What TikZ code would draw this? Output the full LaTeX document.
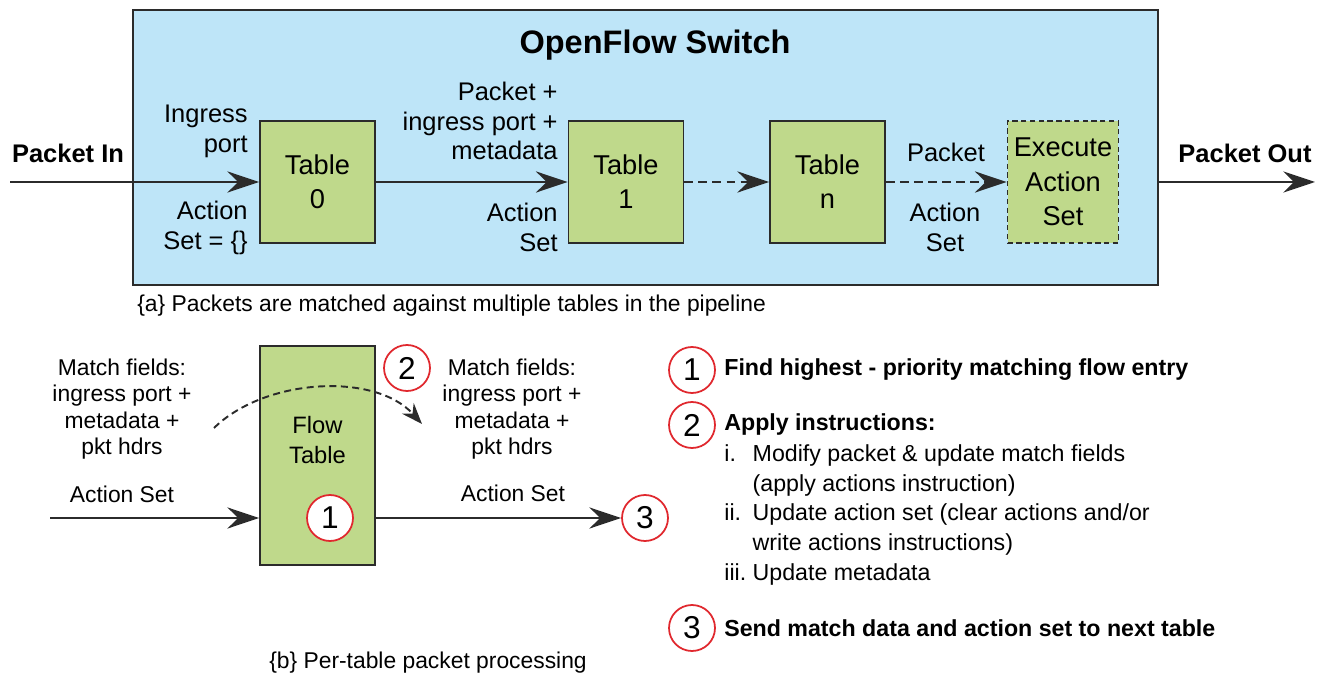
\documentclass[tikz,border=0pt]{standalone}
\usepackage{fontspec}
\setmainfont{Liberation Sans}
\usetikzlibrary{arrows.meta}
\definecolor{swblue}{HTML}{BEE5F8}
\definecolor{tblgreen}{HTML}{BFD98B}
\definecolor{numred}{HTML}{E0282E}
\definecolor{linegray}{HTML}{2B2B2B}

\begin{document}
\begin{tikzpicture}[x=0.02cm,y=-0.02cm,
    tbl/.style={draw=linegray,line width=1pt,fill=tblgreen,minimum width=2.3cm,minimum height=2.44cm,
        align=center,inner sep=0pt,font=\fontsize{15.5}{19.5}\selectfont},
    lbl/.style={inner sep=0pt,font=\fontsize{14.5}{17}\selectfont},
    small/.style={inner sep=0pt,font=\fontsize{13}{15}\selectfont},
    legend/.style={inner sep=0pt,anchor=west,font=\bfseries\fontsize{13.2}{17}\selectfont},
    num/.style={circle,draw=numred,line width=1pt,fill=white,minimum size=0.92cm,inner sep=0pt,
        font=\fontsize{18}{18}\selectfont},
    flow/.style={line width=1.5pt,draw=linegray,-{Stealth[length=18pt,width=12pt,inset=6pt]}}]
    \useasboundingbox (0,0) rectangle (1323,682);

    % (a) the switch
    \node[draw=linegray,line width=1.2pt,fill=swblue,minimum width=20.5cm,minimum height=5.5cm] (switch) at (645.5,147.5) {};
    \node[font=\bfseries\fontsize{18.5}{20}\selectfont] (title) at (655,45) {OpenFlow Switch};

    \node[tbl] (t0) at (317.5,182) {Table\\0};
    \node[tbl] (t1) at (626,182) {Table\\1};
    \node[tbl] (tn) at (827.5,182) {Table\\n};
    \node[tbl,minimum width=2.22cm,dash pattern=on 3pt off 2pt] (exec) at (1063,182) {Execute\\Action\\Set};

    \coordinate (in) at (10,182);
    \coordinate (out) at (1315,182);
    \draw[flow] (in) -- (t0);
    \draw[flow] (t0) -- (t1);
    \draw[flow,dash pattern=on 5pt off 3pt] (t1) -- (tn);
    \draw[flow,dash pattern=on 5pt off 3pt] (tn) -- (exec);
    \draw[flow] (switch.east |- exec.west) -- (out);

    \node[lbl,font=\bfseries\fontsize{14.5}{17}\selectfont] (pin) at (68,153) {Packet In};
    \node[lbl,align=right,anchor=east] (ingress) at (248,131) {Ingress\\port};
    \node[lbl,align=right,anchor=east] (aset0) at (248,228) {Action\\Set = \{\}};
    \node[lbl,align=right,anchor=east] (pmeta) at (558,121) {Packet +\\ingress port +\\metadata};
    \node[lbl,align=right,anchor=east] (aset1) at (558,227) {Action\\Set};
    \node[lbl] (pkt) at (946,152) {Packet};
    \node[lbl,align=center] (asetn) at (945,227) {Action\\Set};
    \node[lbl,font=\bfseries\fontsize{14.5}{17}\selectfont] (pout) at (1245,153) {Packet Out};

    \node[small,anchor=west] (capa) at (137,306) {\{a\} Packets are matched against multiple tables in the pipeline};

    % (b) one table
    \node[tbl,minimum height=4.38cm] (ft) at (317.5,455.5) {};
    \node[small,align=center,font=\fontsize{13.5}{17.5}\selectfont] (ftname) at (317.5,440) {Flow\\Table};
    \node[num] (n1) at (330,518) {1};
    \node[num] (n2) at (407,368) {2};
    \node[num] (n3) at (645,518) {3};

    \node[small,align=center] (mfin) at (122,409) {Match fields:\\ingress port +\\metadata +\\pkt hdrs};
    \node[small] (asin) at (122,494) {Action Set};
    \node[small,align=center] (mfout) at (512,409) {Match fields:\\ingress port +\\metadata +\\pkt hdrs};
    \node[small] (asout) at (513,493) {Action Set};

    \coordinate (ain) at (50,518);
    \draw[flow] (ain) -- (ain -| ft.west);
    \draw[flow] (ft.east |- n1) -- (n3);

    \coordinate (arcA) at (214,428);
    \coordinate (arcB) at (422,424);
    \draw[line width=1.1pt,draw=linegray,dash pattern=on 4pt off 2.5pt,-{Stealth[length=12pt,width=9pt,inset=4pt]}]
        (arcA) .. controls (265,378) and (375,372) .. (arcB);

    \node[small] (capb) at (428,663) {\{b\} Per-table packet processing};

    % legend
    \node[num] (l1) at (692,370) {1};
    \node[legend] (f1) at (724,370) {Find highest - priority matching flow entry};
    \node[num] (l2) at (692,425) {2};
    \node[legend] (f2) at (724,425) {Apply instructions:};
    \node[legend,font=\fontsize{13.2}{17}\selectfont] (f2list) at (724,515) {%
        \begin{tabular}{@{}l@{\ }l@{}}
        i. & Modify packet \& update match fields\\
           & (apply actions instruction)\\
        ii. & Update action set (clear actions and/or\\
            & write actions instructions)\\
        iii. & Update metadata
        \end{tabular}};
    \node[num] (l3) at (692,628) {3};
    \node[legend] (f3) at (724,628) {Send match data and action set to next table};
\end{tikzpicture}
\end{document}
